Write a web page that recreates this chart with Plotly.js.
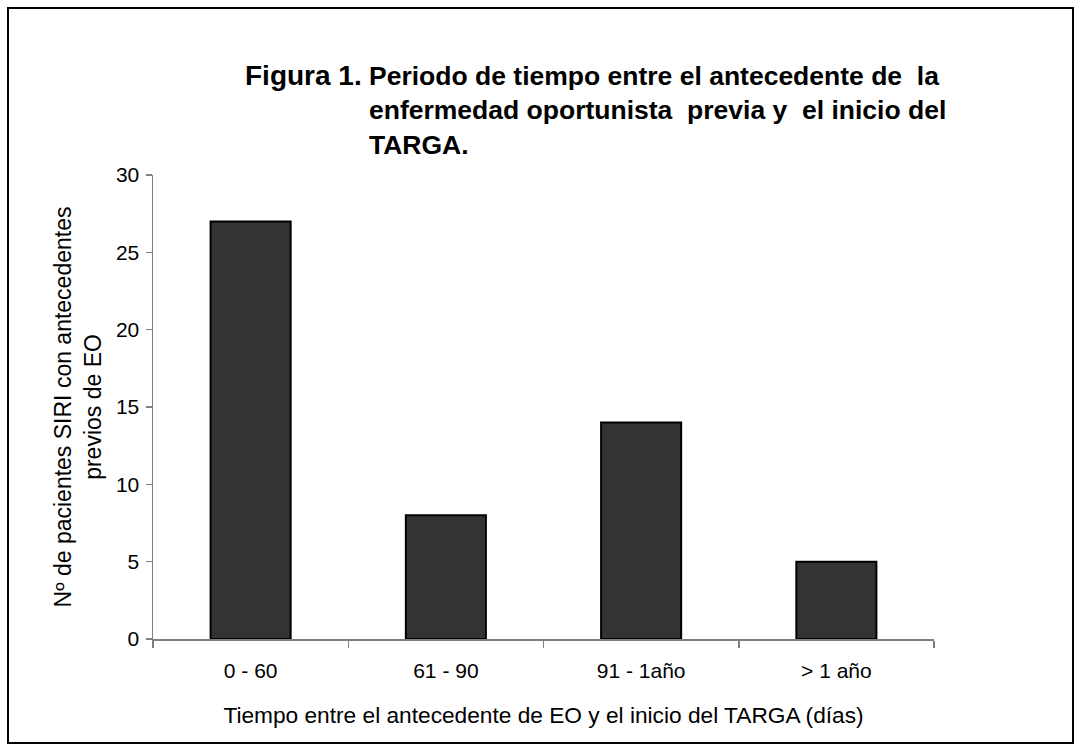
<!DOCTYPE html>
<html>
<head>
<meta charset="utf-8">
<script src="https://cdn.plot.ly/plotly-3.0.1.min.js"></script>
<style>
  html, body { margin: 0; padding: 0; background: #fff; }
  #chart { width: 1082px; height: 751px; }
</style>
</head>
<body>
<div id="chart"></div>
<script>
// ---- data ----
const categories = ["0 - 60", "61 - 90", "91 - 1año", "> 1 año"];
const patients = [27, 8, 14, 5];
const yTickValues = [0, 5, 10, 15, 20, 25, 30];

const titleLead = "Figura 1.";
const titleLines = [
  "Periodo de tiempo entre el antecedente de\u00a0 la",
  "enfermedad oportunista\u00a0 previa y\u00a0 el inicio del",
  "TARGA."
];
const xTitle = "Tiempo entre el antecedente de EO y el inicio del TARGA (días)";
const yTitleLines = ["Nº de pacientes SIRI con antecedentes", "previos de EO"];

// ---- layout helpers ----
const W = 1082, H = 751;
const L = 153, R = 934, T = 175, B = 639;
const px2x = p => (p - L) / (R - L);
const py2y = p => (B - p) / (B - T);
const FONT = "Liberation Sans, Arial, sans-serif";

const trace = {
  type: "bar",
  x: categories,
  y: patients,
  marker: { color: "#333333", line: { color: "#000000", width: 2 } },
  hoverinfo: "x+y"
};

const layout = {
  width: W, height: H,
  margin: { l: L, r: W - R, t: T, b: H - B, pad: 0 },
  paper_bgcolor: "#ffffff",
  plot_bgcolor: "#ffffff",
  showlegend: false,
  bargap: 0.59,
  font: { family: FONT, color: "#000000", size: 21 },
  title: {
    text: titleLines.join("<br>"),
    font: { family: FONT, size: 26.5, color: "#000000", weight: "bold" },
    xref: "container", yref: "container",
    x: 369 / W, xanchor: "left",
    y: 1 - 85 / H, yanchor: "top"
  },
  xaxis: {
    type: "category",
    showline: true, linecolor: "#808080", linewidth: 1.5,
    ticks: "outside", tickson: "boundaries", ticklen: 7, tickcolor: "#808080", tickwidth: 1.5,
    ticklabelstandoff: 12,
    showgrid: false, zeroline: false,
    tickfont: { family: FONT, size: 21, color: "#000" },
    title: { text: xTitle, font: { family: FONT, size: 22.7, color: "#000" }, standoff: 26 }
  },
  yaxis: {
    range: [0, 30],
    tickvals: yTickValues,
    showline: true, linecolor: "#808080", linewidth: 1.5,
    ticks: "outside", ticklen: 6, tickcolor: "#808080", tickwidth: 1.5,
    ticklabelstandoff: 2,
    showgrid: false, zeroline: false,
    tickfont: { family: FONT, size: 21, color: "#000" },
    title: { text: yTitleLines.join("<br>"), font: { family: FONT, size: 23, color: "#000" }, standoff: 8 }
  },
  annotations: [
    {
      text: "<b>" + titleLead + "</b>",
      xref: "paper", yref: "paper",
      x: px2x(364), xanchor: "right",
      y: py2y(76), yanchor: "middle",
      showarrow: false,
      font: { family: FONT, size: 28, color: "#000" }
    }
  ],
  shapes: [
    {
      type: "rect", xref: "paper", yref: "paper",
      x0: px2x(8), x1: px2x(1073), y0: py2y(743), y1: py2y(8),
      line: { color: "#000000", width: 2 }, fillcolor: "rgba(0,0,0,0)", layer: "below"
    }
  ]
};

Plotly.newPlot("chart", [trace], layout, { displayModeBar: false, staticPlot: true });
</script>
</body>
</html>
